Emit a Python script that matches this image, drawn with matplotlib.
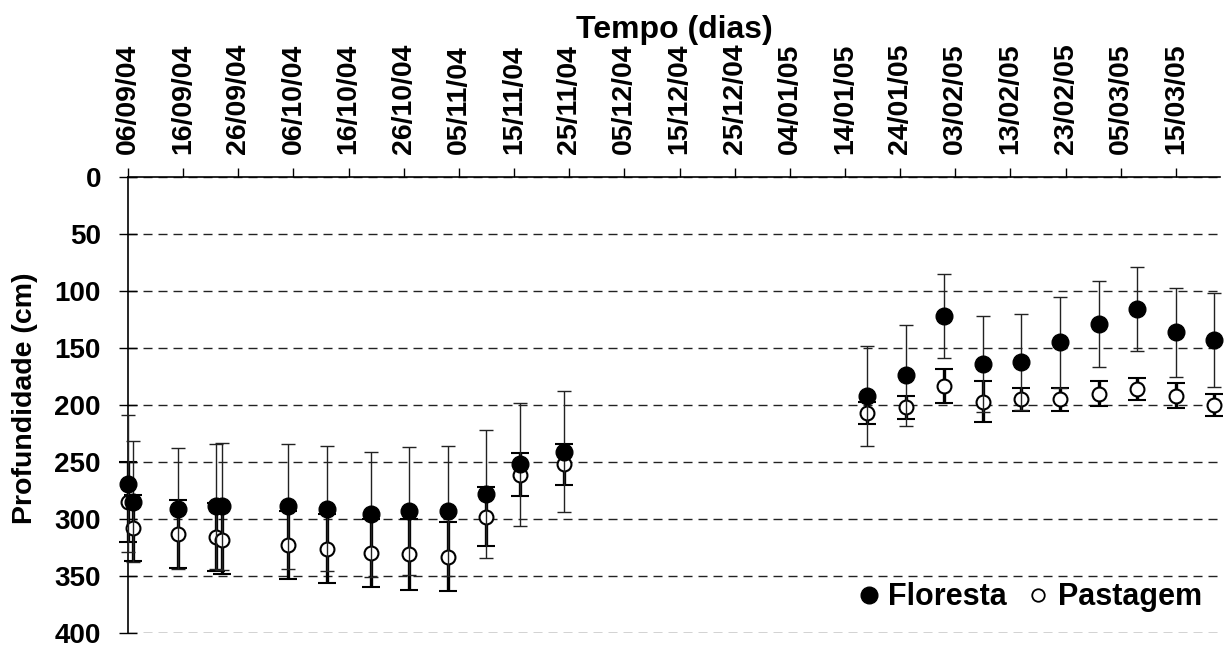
import numpy as np
import matplotlib.pyplot as plt
from matplotlib.lines import Line2D
from datetime import datetime, timedelta

plt.rcParams['font.family'] = ['Liberation Sans', 'DejaVu Sans']
plt.rcParams['font.weight'] = 'bold'

# datas das leituras do lencol freatico
datas = ['06/09/04', '07/09/04', '15/09/04', '22/09/04', '23/09/04',
         '05/10/04', '12/10/04', '20/10/04', '27/10/04', '03/11/04',
         '10/11/04', '16/11/04', '24/11/04',
         '18/01/05', '25/01/05', '01/02/05', '08/02/05', '15/02/05',
         '22/02/05', '01/03/05', '08/03/05', '15/03/05', '22/03/05']

floresta = [269, 285, 291, 289, 289, 289, 291, 296, 293, 293, 278, 252, 241,
            192, 174, 122, 164, 162, 145, 129, 116, 136, 143]
floresta_dp = [60, 53, 53, 55, 56, 55, 55, 55, 56, 57, 56, 54, 53,
               44, 44, 37, 42, 42, 40, 38, 37, 39, 41]

pastagem = [285, 308, 313, 316, 318, 323, 326, 330, 331, 333, 298, 261, 252,
            207, 202, 183, 197, 195, 195, 190, 186, 192, 200]
pastagem_dp = [35, 29, 30, 30, 30, 30, 30, 30, 31, 30, 26, 19, 18,
               10, 10, 15, 18, 10, 10, 11, 10, 11, 10]

inicio = datetime(2004, 9, 6)
fim = datetime(2005, 3, 23)
datas_dt = [datetime.strptime(d, '%d/%m/%y') for d in datas]
ticks_x = [inicio + timedelta(days=10 * i) for i in range(20)]
ticks_y = np.arange(0, 401, 50)

fig = plt.figure(figsize=(12.27, 6.46), dpi=100)
ax = fig.add_axes([0.1043, 0.0201, 0.89, 0.7059])

# linhas de grade tracejadas
ax.yaxis.grid(True, linestyle=(0, (6.5, 4.3)), color='#222222', lw=1)
ax.set_axisbelow(True)

eb_p = ax.errorbar(datas_dt, pastagem, yerr=pastagem_dp, fmt='o', ms=10,
                   mfc='white', mec='black', mew=1.5, ecolor='black',
                   elinewidth=2.4, capsize=6.5, capthick=2.6, zorder=3)
eb_f = ax.errorbar(datas_dt, floresta, yerr=floresta_dp, fmt='o', ms=12,
                   mfc='black', mec='black', ecolor='#222222',
                   elinewidth=1.0, capsize=4.7, capthick=1.0, zorder=4)
# pontos no limite do eixo nao devem ser cortados
for eb in (eb_p, eb_f):
    for artist in eb.get_children():
        artist.set_clip_on(False)

ax.set_xlim(inicio, fim)
ax.set_ylim(400, 0)
ax.set_yticks(ticks_y)
ax.set_xticks(ticks_x)
ax.set_xticklabels([t.strftime('%d/%m/%y') for t in ticks_x])

ax.xaxis.tick_top()
ax.xaxis.set_label_position('top')
ax.spines['right'].set_visible(False)
ax.spines['bottom'].set_visible(False)
for s in ('top', 'left'):
    ax.spines[s].set_linewidth(1.2)
    ax.spines[s].set_color('black')

ax.tick_params(axis='x', direction='out', length=6.5, width=1, pad=10,
               labelsize=20.5, rotation=90)
ax.tick_params(axis='y', direction='inout', length=13, width=1, pad=13,
               labelsize=20)

ax.set_xlabel('Tempo (dias)', fontsize=23, fontweight='bold', labelpad=4)
ax.set_ylabel('Profundidade (cm)', fontsize=20.5, fontweight='bold')
ax.yaxis.set_label_coords(-0.082, 0.515)

handles = [Line2D([], [], ls='none', marker='o', ms=12, mfc='black',
                  mec='black'),
           Line2D([], [], ls='none', marker='o', ms=9, mfc='white',
                  mec='black', mew=1.3)]
ax.legend(handles, ['Floresta', 'Pastagem'], loc='lower right',
          bbox_to_anchor=(1.0, 0.005), frameon=False, ncol=2,
          fontsize=22, handlelength=0.6, handletextpad=0.35,
          columnspacing=0.7, borderaxespad=0.2)

fig.savefig('out.png', dpi=100)
